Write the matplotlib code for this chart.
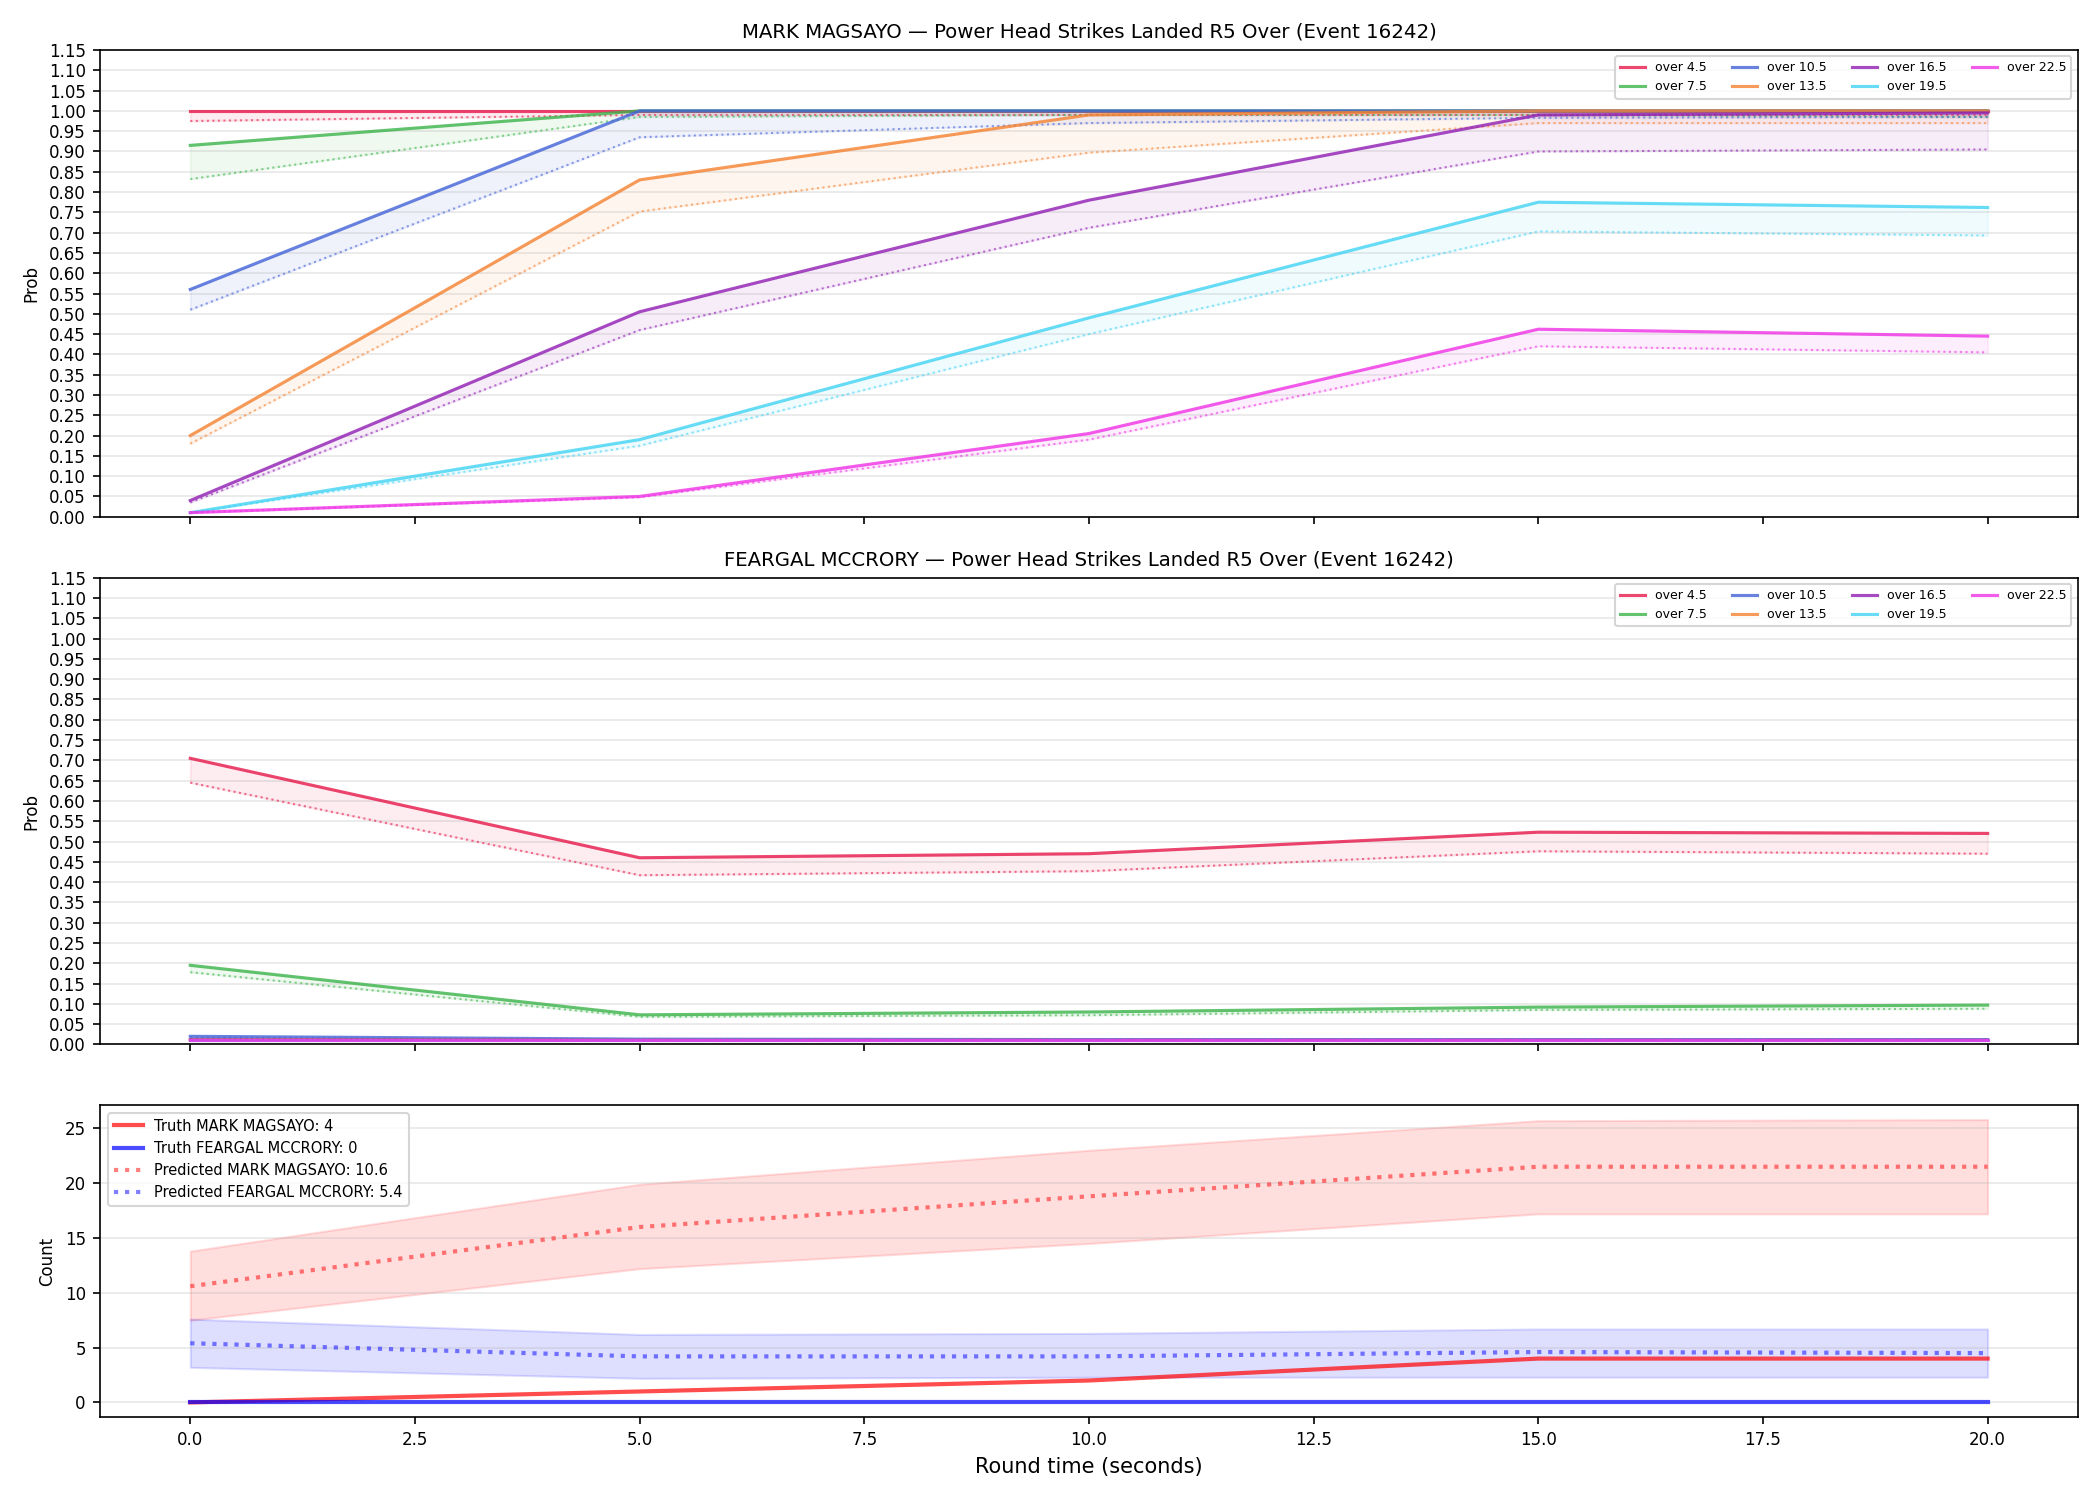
import numpy as np
import matplotlib
matplotlib.use('Agg')
import matplotlib.pyplot as plt

# round time (seconds)
t = [0, 5, 10, 15, 20]

lines = ['over 4.5', 'over 7.5', 'over 10.5', 'over 13.5', 'over 16.5', 'over 19.5', 'over 22.5']
colors = ['#e6194b', '#3cb44b', '#4363d8', '#f58231', '#911eb4', '#42d4f4', '#f032e6']

# MARK MAGSAYO: live prob (solid) and pre-fight prob (dotted)
mark_live = [
    [1.0, 1.0, 1.0, 1.0, 1.0],
    [0.915, 1.0, 1.0, 1.0, 1.0],
    [0.56, 1.0, 1.0, 1.0, 1.0],
    [0.20, 0.83, 0.99, 1.0, 1.0],
    [0.04, 0.505, 0.78, 0.99, 0.995],
    [0.01, 0.19, 0.49, 0.775, 0.762],
    [0.01, 0.05, 0.205, 0.462, 0.445],
]
mark_pre = [
    [0.975, 0.99, 0.99, 0.99, 0.99],
    [0.832, 0.985, 0.99, 0.99, 0.985],
    [0.51, 0.935, 0.97, 0.983, 0.985],
    [0.18, 0.752, 0.897, 0.97, 0.97],
    [0.035, 0.46, 0.712, 0.90, 0.905],
    [0.01, 0.175, 0.45, 0.703, 0.693],
    [0.01, 0.048, 0.19, 0.42, 0.405],
]

# FEARGAL MCCRORY
fear_live = [
    [0.705, 0.46, 0.47, 0.523, 0.52],
    [0.195, 0.073, 0.08, 0.092, 0.097],
    [0.02, 0.013, 0.012, 0.012, 0.012],
    [0.012, 0.01, 0.01, 0.01, 0.01],
    [0.011, 0.01, 0.01, 0.01, 0.01],
    [0.01, 0.01, 0.01, 0.01, 0.01],
    [0.01, 0.01, 0.01, 0.01, 0.01],
]
fear_pre = [
    [0.645, 0.417, 0.427, 0.476, 0.47],
    [0.178, 0.068, 0.072, 0.085, 0.088],
    [0.017, 0.011, 0.011, 0.011, 0.011],
    [0.011, 0.01, 0.01, 0.01, 0.01],
    [0.01, 0.01, 0.01, 0.01, 0.01],
    [0.01, 0.01, 0.01, 0.01, 0.01],
    [0.01, 0.01, 0.01, 0.01, 0.01],
]

# counts
truth_mark = [0, 1, 2, 4, 4]
truth_fear = [0, 0, 0, 0, 0]
pred_mark = [10.6, 16.0, 18.8, 21.5, 21.5]
pred_mark_lo = [7.5, 12.2, 14.5, 17.2, 17.2]
pred_mark_hi = [13.8, 19.9, 23.0, 25.7, 25.8]
pred_fear = [5.4, 4.2, 4.2, 4.6, 4.5]
pred_fear_lo = [3.2, 2.2, 2.3, 2.3, 2.3]
pred_fear_hi = [7.6, 6.2, 6.3, 6.7, 6.7]

fig, axes = plt.subplots(3, 1, figsize=(14, 10), dpi=150, sharex=True,
                         gridspec_kw={'height_ratios': [3, 3, 2]})

def prob_panel(ax, live, pre, name):
    for i in range(len(lines)):
        c = colors[i]
        ax.plot(t, live[i], color=c, lw=1.5, alpha=0.8, label=lines[i])
        ax.plot(t, pre[i], color=c, lw=1.0, ls=':', alpha=0.6)
        ax.fill_between(t, pre[i], live[i], color=c, alpha=0.08)
    ax.set_ylim(0, 1.15)
    ax.set_yticks(np.arange(0, 1.151, 0.05))
    ax.tick_params(labelsize=8)
    ax.set_ylabel('Prob', fontsize=8)
    ax.grid(axis='y', alpha=0.3)
    ax.set_title(name + ' \u2014 Power Head Strikes Landed R5 Over (Event 16242)', fontsize=9.5)
    ax.legend(loc='upper right', ncol=4, fontsize=6)

prob_panel(axes[0], mark_live, mark_pre, 'MARK MAGSAYO')
prob_panel(axes[1], fear_live, fear_pre, 'FEARGAL MCCRORY')

ax = axes[2]
ax.plot(t, truth_mark, color='red', lw=2, alpha=0.7, label='Truth MARK MAGSAYO: 4')
ax.plot(t, truth_fear, color='blue', lw=2, alpha=0.7, label='Truth FEARGAL MCCRORY: 0')
ax.plot(t, pred_mark, color='red', lw=2, ls=':', alpha=0.5, label='Predicted MARK MAGSAYO: 10.6')
ax.fill_between(t, pred_mark_lo, pred_mark_hi, color='red', alpha=0.13)
ax.plot(t, pred_fear, color='blue', lw=2, ls=':', alpha=0.5, label='Predicted FEARGAL MCCRORY: 5.4')
ax.fill_between(t, pred_fear_lo, pred_fear_hi, color='blue', alpha=0.13)
ax.set_ylabel('Count', fontsize=8)
ax.tick_params(labelsize=8)
ax.grid(axis='y', alpha=0.3)
ax.legend(loc='upper left', fontsize=7)
ax.set_xlabel('Round time (seconds)', fontsize=10)

plt.tight_layout()
plt.savefig('out.png')
